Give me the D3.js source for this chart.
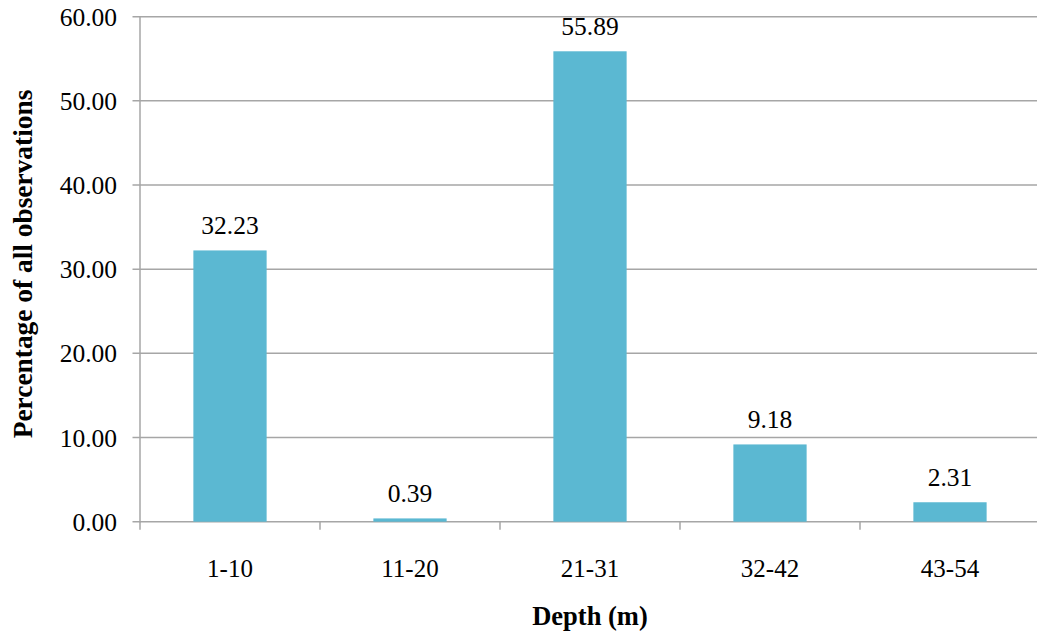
<!DOCTYPE html>
<html><head><meta charset="utf-8">
<script src="https://cdn.jsdelivr.net/npm/d3@7"></script>
<style>body{margin:0;background:#fff}svg{display:block}
text{font-family:"Liberation Serif","Times New Roman",Times,Tinos,serif}</style>
</head><body>
<svg id="c" width="1037" height="635"></svg>
<script>
const categories = ["1-10","11-20","21-31","32-42","43-54"];
const values = [32.23, 0.39, 55.89, 9.18, 2.31];
const yTicks = [0,10,20,30,40,50,60];
const xTitle = "Depth (m)";
const yTitle = "Percentage of all observations";

const svg = d3.select("#c");
const L = 140, R = 1040, T = 16.7, B = 521.7;
const x = d3.scaleBand().domain(categories).range([L, R]).paddingInner(0.593).paddingOuter(0.2965);
const y = d3.scaleLinear().domain([0,60]).range([B, T]);
const step = x.step();
const grid = "#a6a6a6";

// gridlines
svg.append("g").selectAll("line").data(yTicks).join("line")
  .attr("x1", L - 7.5).attr("x2", R).attr("y1", d=>y(d)).attr("y2", d=>y(d))
  .attr("stroke", grid).attr("stroke-width", 1.5);
// y axis line
svg.append("line").attr("x1", L).attr("x2", L).attr("y1", T).attr("y2", B + 0.75)
  .attr("stroke", grid).attr("stroke-width", 1.5);
// x ticks at band boundaries
const bounds = categories.map(c => x(c) - step*0.593/2).concat([R]);
svg.append("g").selectAll("line").data(bounds).join("line")
  .attr("x1", d=>d).attr("x2", d=>d).attr("y1", B).attr("y2", B + 8)
  .attr("stroke", grid).attr("stroke-width", 1.5);

// y tick labels
svg.append("g").selectAll("text").data(yTicks).join("text")
  .attr("x", 117).attr("y", d=>y(d) + 9)
  .attr("text-anchor", "end").style("font-size", "25.5px")
  .text(d => d.toFixed(2));

// bars
svg.append("g").selectAll("rect").data(values).join("rect")
  .attr("x", (d,i)=>x(categories[i])).attr("width", x.bandwidth())
  .attr("y", d=>y(d)).attr("height", d=>B - y(d))
  .attr("fill", "#5bb8d2");

// value labels
svg.append("g").selectAll("text").data(values).join("text")
  .attr("x", (d,i)=>x(categories[i]) + x.bandwidth()/2).attr("y", d=>y(d) - 16)
  .attr("text-anchor", "middle").style("font-size", "25.5px")
  .text(d => d.toFixed(2));

// category labels
svg.append("g").selectAll("text").data(categories).join("text")
  .attr("x", d=>x(d) + x.bandwidth()/2).attr("y", 577)
  .attr("text-anchor", "middle").style("font-size", "25px")
  .text(d=>d);

// axis titles
svg.append("text").attr("x", 590).attr("y", 625)
  .attr("text-anchor","middle").style("font-size", "26.5px").style("font-weight","bold")
  .text(xTitle);
svg.append("text").attr("transform","translate(32,264) rotate(-90)")
  .attr("text-anchor","middle").style("font-size", "27.4px").style("font-weight","bold")
  .text(yTitle);
</script>
</body></html>
